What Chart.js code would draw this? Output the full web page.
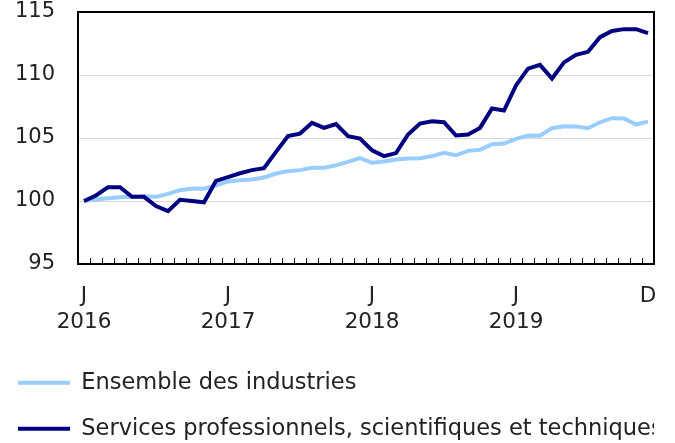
<!DOCTYPE html>
<html>
<head>
<meta charset="utf-8">
<script src="https://cdn.jsdelivr.net/npm/chart.js@4"></script>
<style>
  html, body { margin: 0; padding: 0; background: #fff; }
  #wrap { width: 675px; height: 443px; }
</style>
</head>
<body>
<div id="wrap"><canvas id="grafica"></canvas></div>
<script>
const months = ['J', 'F', 'M', 'A', 'M', 'J', 'J', 'A', 'S', 'O', 'N', 'D'];
const years = [2016, 2017, 2018, 2019];

// indice, janvier 2016 = 100
const ensemble = [
  100.0, 100.12, 100.22, 100.3, 100.33, 100.38, 100.33, 100.57, 100.86, 101.0, 100.97, 101.23,
  101.55, 101.65, 101.7, 101.87, 102.18, 102.37, 102.45, 102.63, 102.63, 102.84, 103.1, 103.4,
  103.03, 103.13, 103.3, 103.37, 103.4, 103.56, 103.82, 103.63, 103.98, 104.06, 104.5, 104.56,
  104.93, 105.2, 105.18, 105.78, 105.94, 105.92, 105.78, 106.25, 106.57, 106.55, 106.07, 106.3
];
const services = [
  100.0, 100.44, 101.1, 101.1, 100.33, 100.33, 99.6, 99.2, 100.1, 100.0, 99.9, 101.6,
  101.9, 102.2, 102.45, 102.6, 103.9, 105.15, 105.35, 106.2, 105.8, 106.1, 105.15, 104.95,
  104.03, 103.56, 103.8, 105.28, 106.15, 106.33, 106.25, 105.2, 105.28, 105.8, 107.34, 107.18,
  109.17, 110.5, 110.8, 109.72, 111.0, 111.6, 111.84, 113.0, 113.5, 113.64, 113.64, 113.32
];
const yTicks = [95, 100, 105, 110, 115];

const labels = [];
years.forEach(y => months.forEach(m => labels.push(m + ' ' + y)));

const fam = 'DejaVu Sans';

const boxPlugin = {
  id: 'boxPlugin',
  afterDraw(chart) {
    const a = chart.chartArea;
    const ctx = chart.ctx;
    ctx.save();
    ctx.strokeStyle = '#000';
    ctx.lineWidth = 2;
    ctx.strokeRect(a.left, a.top, a.right - a.left, a.bottom - a.top);
    ctx.restore();
  }
};

const data = {
  labels: labels,
  datasets: [
    {
      label: 'Services professionnels, scientifiques et techniques',
      data: services,
      borderColor: '#000080',
      backgroundColor: '#000080',
      borderWidth: 4,
      pointRadius: 0,
      tension: 0
    },
    {
      label: 'Ensemble des industries',
      data: ensemble,
      borderColor: '#99ccff',
      backgroundColor: '#99ccff',
      borderWidth: 4,
      pointRadius: 0,
      tension: 0
    }
  ]
};

new Chart(document.getElementById('grafica'), {
  type: 'line',
  data: data,
  plugins: [boxPlugin],
  options: {
    responsive: true,
    maintainAspectRatio: false,
    animation: false,
    layout: { padding: { left: -5.5, right: 21, top: 12, bottom: -7 } },
    plugins: {
      tooltip: { enabled: false },
      legend: {
        position: 'bottom',
        align: 'start',
        reverse: true,
        labels: {
          boxWidth: 52,
          boxHeight: 4,
          padding: 23.5,
          color: '#222',
          font: { family: fam, size: 22.5 },
          generateLabels(chart) {
            return Chart.defaults.plugins.legend.labels.generateLabels(chart)
              .map(it => Object.assign(it, { lineWidth: 0, fillStyle: it.strokeStyle }));
          }
        }
      }
    },
    scales: {
      x: {
        type: 'category',
        offset: true,
        grid: {
          offset: true,
          drawOnChartArea: false,
          drawTicks: true,
          tickLength: -6,
          color: '#000',
          lineWidth: 1
        },
        border: { color: '#000', width: 2 },
        ticks: {
          autoSkip: false,
          maxRotation: 0,
          minRotation: 0,
          padding: 25,
          color: '#222',
          font: { family: fam, size: 21.5, lineHeight: 1.22 },
          callback(value, index) {
            if (index === labels.length - 1) return [months[11]];
            if (index % 12 === 0) return [months[0], String(years[index / 12])];
            return '';
          }
        },
        afterFit(scale) {
          scale.height = 84;
          scale.paddingLeft = 0;
          scale.paddingRight = 0;
        }
      },
      y: {
        min: 95,
        max: 115,
        afterBuildTicks(scale) { scale.ticks = yTicks.map(v => ({ value: v })); },
        grid: { color: '#d9d9d9', lineWidth: 1, drawTicks: false },
        border: { color: '#000', width: 2 },
        ticks: { padding: 23, color: '#222', font: { family: fam, size: 21 } },
        afterFit(scale) {
          scale.width = 83.5;
          scale.paddingTop = 0;
          scale.paddingBottom = 0;
        }
      }
    }
  }
});
</script>
</body>
</html>
